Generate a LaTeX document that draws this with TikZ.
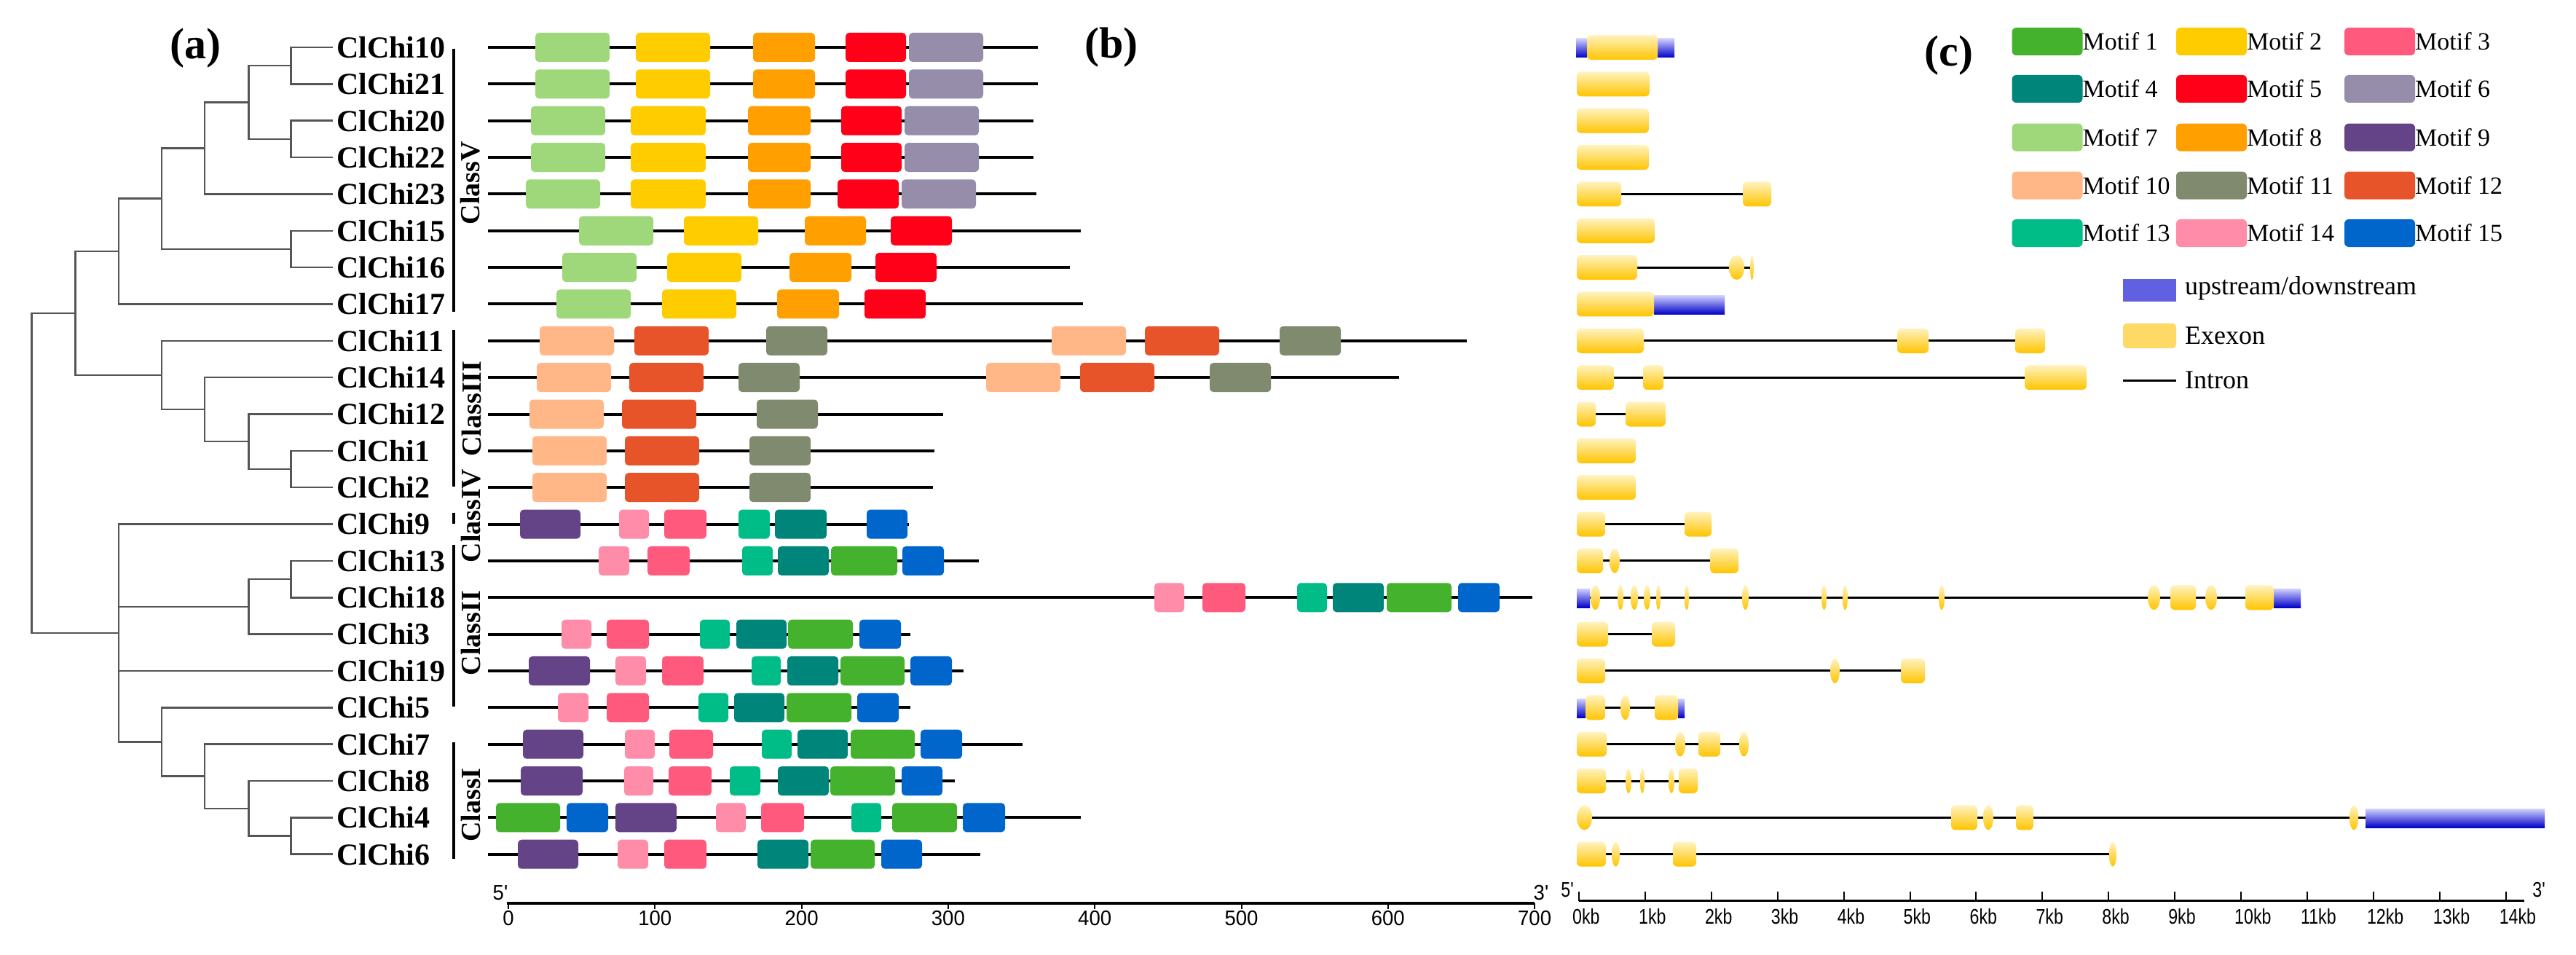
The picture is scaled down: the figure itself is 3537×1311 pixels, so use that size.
\documentclass[tikz,border=0pt]{standalone}
\usepackage{fontspec}
\setmainfont{Liberation Serif}
\newfontfamily\axfb{Liberation Sans}[FakeStretch=0.95]
\newfontfamily\axfc{Liberation Sans}[FakeStretch=0.8]
\definecolor{m1}{HTML}{44B22C}
\definecolor{m2}{HTML}{FFCC00}
\definecolor{m3}{HTML}{FF5A7E}
\definecolor{m4}{HTML}{00857A}
\definecolor{m5}{HTML}{FF0018}
\definecolor{m6}{HTML}{958DAA}
\definecolor{m7}{HTML}{9ED87A}
\definecolor{m8}{HTML}{FFA000}
\definecolor{m9}{HTML}{654387}
\definecolor{m10}{HTML}{FFB788}
\definecolor{m11}{HTML}{7F8A6F}
\definecolor{m12}{HTML}{E8542A}
\definecolor{m13}{HTML}{00BD88}
\definecolor{m14}{HTML}{FF8CA8}
\definecolor{m15}{HTML}{0066CC}
\definecolor{treegray}{HTML}{555555}
\definecolor{exT}{HTML}{FFF3C0}
\definecolor{exB}{HTML}{FFC400}
\definecolor{utT}{HTML}{D0D0FF}
\definecolor{utB}{HTML}{0000C8}
\definecolor{legUp}{HTML}{6060E0}
\definecolor{legEx}{HTML}{FFD966}
\newcommand\RY[1]{\pgfmathsetmacro\yy{65+50.35*#1}}
\newcommand\mline[2]{\RY{#1}\draw[line width=4pt] (670,\yy) -- (#2,\yy);}
\newcommand\mot[4]{\RY{#1}\fill[#4,rounded corners=5pt] (#2,\yy-20) rectangle (#3,\yy+20);}
\newcommand\gex[3]{\RY{#1}\shade[top color=exT,bottom color=exB,rounded corners=6pt] (#2,\yy-17) rectangle (#3,\yy+17);}
\newcommand\gel[3]{\RY{#1}\shade[top color=exT,bottom color=exB] ({(#2+#3)/2},\yy) ellipse [x radius={(#3-#2)/2}, y radius=17];}
\newcommand\gut[3]{\RY{#1}\shade[top color=utT,bottom color=utB] (#2,\yy-12) rectangle (#3,\yy+14);}
\newcommand\gin[3]{\RY{#1}\draw[line width=3pt] (#2,\yy) -- (#3,\yy);}
\begin{document}
\begin{tikzpicture}[x=1pt,y=-1pt,
  tree/.style={draw=treegray,line width=2.5pt},
  lab/.style={font=\bfseries\fontsize{42}{48}\selectfont,inner sep=0pt,anchor=west},
  cls/.style={font=\bfseries\fontsize{38}{44}\selectfont,inner sep=0pt,rotate=90},
  panel/.style={font=\bfseries\fontsize{60}{66}\selectfont,inner sep=0pt},
  axb/.style={font=\axfb\fontsize{29}{32}\selectfont,inner sep=0pt},
  axc/.style={font=\axfc\fontsize{29}{32}\selectfont,inner sep=0pt},
  legtxt/.style={font=\fontsize{34}{38}\selectfont,inner sep=1pt,anchor=west},
  legtxt2/.style={font=\fontsize{36}{40}\selectfont,inner sep=1pt,anchor=west},
  bar/.style={line width=4pt}]
\useasboundingbox (0,0) rectangle (3537,1311);
\fill[white] (0,0) rectangle (3537,1311);

% panel labels
\node[panel] (pa) at (268,66) {(a)};
\node[panel] (pb) at (1526,65) {(b)};
\node[panel] (pc) at (2676,76) {(c)};

% ---------- tree ----------
\draw[tree] (457,65) -- (399.5,65) -- (399.5,115.35) -- (457,115.35);
\draw[tree] (457,165.7) -- (399.5,165.7) -- (399.5,216.05) -- (457,216.05);
\draw[tree] (399.5,90.2) -- (341.5,90.2) -- (341.5,190.9) -- (399.5,190.9);
\draw[tree] (341.5,140.5) -- (281,140.5) -- (281,266.4) -- (457,266.4);
\draw[tree] (457,316.75) -- (399.5,316.75) -- (399.5,367.1) -- (457,367.1);
\draw[tree] (281,203.5) -- (222,203.5) -- (222,342) -- (399.5,342);
\draw[tree] (222,272.7) -- (163,272.7) -- (163,417.45) -- (457,417.45);
\draw[tree] (457,618.85) -- (399.5,618.85) -- (399.5,669.2) -- (457,669.2);
\draw[tree] (457,568.5) -- (341.5,568.5) -- (341.5,644) -- (399.5,644);
\draw[tree] (457,518.15) -- (281,518.15) -- (281,606.2) -- (341.5,606.2);
\draw[tree] (457,467.8) -- (222,467.8) -- (222,562) -- (281,562);
\draw[tree] (163,345) -- (103.6,345) -- (103.6,515) -- (222,515);
\draw[tree] (457,769.9) -- (399.5,769.9) -- (399.5,820.25) -- (457,820.25);
\draw[tree] (399.5,795) -- (341.5,795) -- (341.5,870.6) -- (457,870.6);
\draw[tree] (457,1122.35) -- (399.5,1122.35) -- (399.5,1172.7) -- (457,1172.7);
\draw[tree] (457,1072) -- (341.5,1072) -- (341.5,1147.5) -- (399.5,1147.5);
\draw[tree] (457,1021.65) -- (281,1021.65) -- (281,1109.8) -- (341.5,1109.8);
\draw[tree] (457,971.3) -- (222,971.3) -- (222,1065.7) -- (281,1065.7);
\draw[tree] (457,719.55) -- (163,719.55) -- (163,1018.5) -- (222,1018.5);
\draw[tree] (163,832.8) -- (341.5,832.8);
\draw[tree] (163,920.95) -- (457,920.95);
\draw[tree] (103.6,430) -- (43.3,430) -- (43.3,869) -- (163,869);

% labels
\foreach \i/\n in {0/ClChi10,1/ClChi21,2/ClChi20,3/ClChi22,4/ClChi23,5/ClChi15,6/ClChi16,7/ClChi17,8/ClChi11,9/ClChi14,10/ClChi12,11/ClChi1,12/ClChi2,13/ClChi9,14/ClChi13,15/ClChi18,16/ClChi3,17/ClChi19,18/ClChi5,19/ClChi7,20/ClChi8,21/ClChi4,22/ClChi6}
  \node[lab] (g\i) at (462,{65+50.35*\i}) {\n};

% class bars
\draw[bar] (623,67) -- (623,428);
\draw[bar] (623,453) -- (623,668);
\draw[bar] (623,704) -- (623,719);
\draw[bar] (623,748) -- (623,970);
\draw[bar] (623,1019) -- (623,1179);
\node[cls] (cV) at (646,251) {ClassV};
\node[cls] (cIII) at (647,561) {ClassIII};
\node[cls] (cIV) at (647,708) {ClassIV};
\node[cls] (cII) at (646,869) {ClassII};
\node[cls] (cI) at (646,1105) {ClassI};

% ---------- motifs ----------
\mline{0}{1425}\mline{1}{1425}\mline{2}{1419}\mline{3}{1419}\mline{4}{1423}
\mline{5}{1484}\mline{6}{1469}\mline{7}{1487}\mline{8}{2014}\mline{9}{1921}
\mline{10}{1295}\mline{11}{1283}\mline{12}{1281}\mline{13}{1248}\mline{14}{1344}
\mline{15}{2104}\mline{16}{1250}\mline{17}{1323}\mline{18}{1250}\mline{19}{1404}
\mline{20}{1311}\mline{21}{1484}\mline{22}{1346}

\foreach \r in {0,1}{\mot{\r}{735}{837}{m7}\mot{\r}{873}{975}{m2}\mot{\r}{1034}{1119}{m8}\mot{\r}{1161}{1244}{m5}\mot{\r}{1248}{1350}{m6}}
\foreach \r in {2,3}{\mot{\r}{729}{831}{m7}\mot{\r}{866}{969}{m2}\mot{\r}{1027}{1113}{m8}\mot{\r}{1155}{1238}{m5}\mot{\r}{1242}{1344}{m6}}
\mot{4}{722}{824}{m7}\mot{4}{866}{969}{m2}\mot{4}{1027}{1113}{m8}\mot{4}{1150}{1234}{m5}\mot{4}{1238}{1340}{m6}
\mot{5}{795}{897}{m7}\mot{5}{939}{1041}{m2}\mot{5}{1105}{1189}{m8}\mot{5}{1223}{1307}{m5}
\mot{6}{772}{874}{m7}\mot{6}{916}{1018}{m2}\mot{6}{1084}{1169}{m8}\mot{6}{1202}{1286}{m5}
\mot{7}{764}{866}{m7}\mot{7}{909}{1011}{m2}\mot{7}{1067}{1152}{m8}\mot{7}{1187}{1271}{m5}
\mot{8}{741}{843}{m10}\mot{8}{871}{973}{m12}\mot{8}{1052}{1136}{m11}\mot{8}{1444}{1546}{m10}\mot{8}{1572}{1674}{m12}\mot{8}{1757}{1841}{m11}
\mot{9}{737}{839}{m10}\mot{9}{864}{966}{m12}\mot{9}{1014}{1098}{m11}\mot{9}{1354}{1456}{m10}\mot{9}{1483}{1585}{m12}\mot{9}{1661}{1745}{m11}
\mot{10}{727}{829}{m10}\mot{10}{854}{956}{m12}\mot{10}{1039}{1123}{m11}
\foreach \r in {11,12}{\mot{\r}{731}{833}{m10}\mot{\r}{858}{960}{m12}\mot{\r}{1029}{1113}{m11}}
\mot{13}{714}{797}{m9}\mot{13}{850}{891}{m14}\mot{13}{912}{970}{m3}\mot{13}{1014}{1057}{m13}\mot{13}{1064}{1135}{m4}\mot{13}{1190}{1246}{m15}
\mot{14}{822}{864}{m14}\mot{14}{889}{947}{m3}\mot{14}{1019}{1061}{m13}\mot{14}{1068}{1138}{m4}\mot{14}{1141}{1232}{m1}\mot{14}{1239}{1296}{m15}
\mot{15}{1585}{1626}{m14}\mot{15}{1651}{1710}{m3}\mot{15}{1781}{1822}{m13}\mot{15}{1830}{1900}{m4}\mot{15}{1904}{1993}{m1}\mot{15}{2002}{2059}{m15}
\mot{16}{771}{812}{m14}\mot{16}{833}{891}{m3}\mot{16}{961}{1002}{m13}\mot{16}{1011}{1080}{m4}\mot{16}{1082}{1171}{m1}\mot{16}{1180}{1237}{m15}
\mot{17}{726}{810}{m9}\mot{17}{845}{887}{m14}\mot{17}{909}{966}{m3}\mot{17}{1032}{1072}{m13}\mot{17}{1081}{1151}{m4}\mot{17}{1154}{1242}{m1}\mot{17}{1250}{1307}{m15}
\mot{18}{766}{808}{m14}\mot{18}{833}{891}{m3}\mot{18}{959}{1000}{m13}\mot{18}{1008}{1077}{m4}\mot{18}{1080}{1169}{m1}\mot{18}{1177}{1234}{m15}
\mot{19}{718}{801}{m9}\mot{19}{858}{899}{m14}\mot{19}{919}{979}{m3}\mot{19}{1046}{1087}{m13}\mot{19}{1095}{1164}{m4}\mot{19}{1168}{1256}{m1}\mot{19}{1264}{1321}{m15}
\mot{20}{715}{800}{m9}\mot{20}{857}{897}{m14}\mot{20}{918}{977}{m3}\mot{20}{1002}{1044}{m13}\mot{20}{1068}{1138}{m4}\mot{20}{1140}{1229}{m1}\mot{20}{1238}{1294}{m15}
\mot{21}{681}{769}{m1}\mot{21}{778}{835}{m15}\mot{21}{845}{929}{m9}\mot{21}{983}{1024}{m14}\mot{21}{1045}{1104}{m3}\mot{21}{1169}{1210}{m13}\mot{21}{1225}{1314}{m1}\mot{21}{1322}{1380}{m15}
\mot{22}{711}{794}{m9}\mot{22}{848}{890}{m14}\mot{22}{912}{970}{m3}\mot{22}{1040}{1110}{m4}\mot{22}{1113}{1201}{m1}\mot{22}{1210}{1266}{m15}

% axis (b)
\draw[line width=3.5pt] (696,1240) -- (2107,1240);
\foreach \k/\t in {0/0,1/100,2/200,3/300,4/400,5/500,6/600,7/700}{
  \draw[line width=2pt] ({698+201.3*\k},1240) -- ++(0,8);
  \node[axb,anchor=north] (bl\k) at ({698+201.3*\k},1250) {\t};}
\node[axb,anchor=south] (b5) at (687,1236) {5'};
\node[axb,anchor=south] (b3) at (2116,1236) {3'};

% ---------- gene structures ----------
% introns
\gin{4}{2226}{2393}\gin{6}{2248}{2407}\gin{8}{2257}{2767}\gin{9}{2216}{2780}
\gin{10}{2191}{2232}\gin{13}{2204}{2313}\gin{14}{2201}{2348}\gin{15}{2183}{3083}
\gin{16}{2208}{2268}\gin{17}{2204}{2610}\gin{18}{2204}{2272}\gin{19}{2206}{2388}
\gin{20}{2205}{2305}\gin{21}{2186}{3248}\gin{22}{2205}{2896}
% UTRs
\gut{0}{2164}{2179}\gut{0}{2276}{2299}\gut{7}{2271}{2368}\gut{15}{2165}{2183}\gut{15}{3122}{3159}
\gut{18}{2165}{2177}\gut{18}{2304}{2313}\gut{21}{3248}{3494}
% exons
\gex{0}{2179}{2276}\gex{1}{2165}{2265}\gex{2}{2165}{2264}\gex{3}{2165}{2264}
\gex{4}{2165}{2226}\gex{4}{2393}{2432}\gex{5}{2165}{2272}
\gex{6}{2165}{2248}\gel{6}{2374}{2395}\gel{6}{2403}{2408}
\gex{7}{2165}{2271}
\gex{8}{2165}{2257}\gex{8}{2605}{2648}\gex{8}{2767}{2808}
\gex{9}{2165}{2216}\gex{9}{2256}{2284}\gex{9}{2780}{2865}
\gex{10}{2165}{2191}\gex{10}{2232}{2287}
\gex{11}{2165}{2246}\gex{12}{2165}{2246}
\gex{13}{2165}{2204}\gex{13}{2313}{2350}
\gex{14}{2165}{2201}\gel{14}{2210}{2224}\gex{14}{2348}{2387}
\gel{15}{2184}{2197}\gel{15}{2221}{2229}\gel{15}{2239}{2249}\gel{15}{2257}{2266}\gel{15}{2274}{2280}
\gel{15}{2313}{2319}\gel{15}{2392}{2401}\gel{15}{2501}{2508}\gel{15}{2530}{2537}\gel{15}{2662}{2670}
\gel{15}{2949}{2966}\gex{15}{2980}{3015}\gel{15}{3028}{3044}\gex{15}{3083}{3122}
\gex{16}{2165}{2208}\gex{16}{2268}{2300}
\gex{17}{2165}{2204}\gel{17}{2513}{2526}\gex{17}{2610}{2643}
\gex{18}{2177}{2204}\gel{18}{2225}{2238}\gex{18}{2272}{2304}
\gex{19}{2165}{2206}\gel{19}{2300}{2314}\gex{19}{2332}{2362}\gel{19}{2388}{2401}
\gex{20}{2165}{2205}\gel{20}{2232}{2240}\gel{20}{2252}{2258}\gel{20}{2291}{2299}\gex{20}{2305}{2331}
\gel{21}{2165}{2186}\gex{21}{2679}{2715}\gel{21}{2723}{2737}\gex{21}{2768}{2792}\gel{21}{3226}{3238}
\gex{22}{2165}{2205}\gel{22}{2213}{2224}\gex{22}{2297}{2329}\gel{22}{2896}{2906}

% axis (c)
\draw[line width=3pt] (2168,1236) -- (3466,1236);
\foreach \k in {0,...,14}{
  \draw[line width=2pt] ({2168+90.9*\k},1237) -- ++(0,-13);
  \node[axc,anchor=north west] (cl\k) at ({2168+90.9*\k-9},1247) {\k kb};}
\node[axc,anchor=south] (c5) at (2152,1232) {5'};
\node[axc,anchor=south] (c3) at (3486,1232) {3'};

% ---------- legend ----------
\foreach \r/\yc in {0/57,1/122,2/188.6,3/254.6,4/320}{
  \foreach \c/\xc in {0/2762.5,1/2988,2/3219}{
    \pgfmathtruncatemacro\k{3*\r+\c+1}
    \fill[m\k,rounded corners=6pt] (\xc,\yc-19) rectangle (\xc+97,\yc+19);
    \node[legtxt] (leg\k) at (\xc+96,\yc) {Motif \k};
  }}
\fill[legUp] (2915,383) rectangle (2988,414);
\node[legtxt2] (lu) at (2999,396) {upstream/downstream};
\fill[legEx,rounded corners=5pt] (2915,444) rectangle (2988,478);
\node[legtxt2] (le) at (2999,461) {Exexon};
\draw[line width=3pt] (2915,522) -- (2988,522);
\node[legtxt2] (li) at (2999,522) {Intron};
\end{tikzpicture}
\end{document}
